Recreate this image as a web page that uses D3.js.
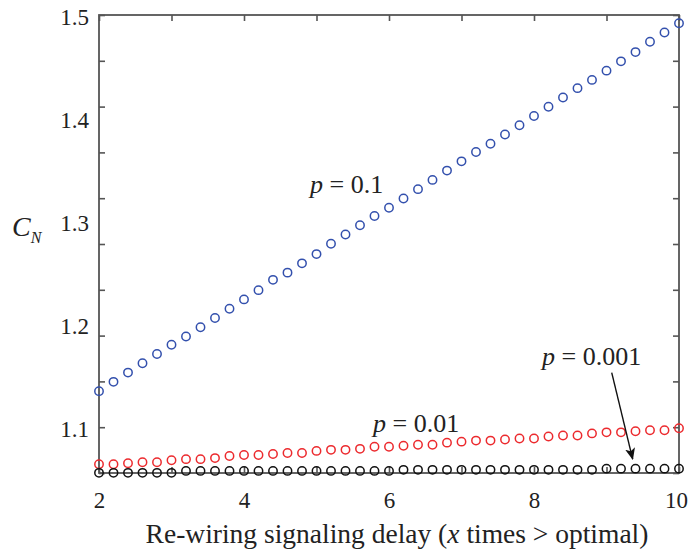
<!DOCTYPE html>
<html>
<head>
<meta charset="utf-8">
<script src="https://cdn.jsdelivr.net/npm/d3@7"></script>
<style>
  body { margin : 0; background : #fff; }
  svg text { font-family : "Liberation Serif", serif; }
</style>
</head>
<body>
<div id="chart"></div>
<script>
// delay multiples on the x axis
const delays = [2, 2.2, 2.4, 2.6, 2.8, 3, 3.2, 3.4, 3.6, 3.8,
                4, 4.2, 4.4, 4.6, 4.8, 5, 5.2, 5.4, 5.6, 5.8,
                6, 6.2, 6.4, 6.6, 6.8, 7, 7.2, 7.4, 7.6, 7.8,
                8, 8.2, 8.4, 8.6, 8.8, 9, 9.2, 9.4, 9.6, 9.8, 10];

// C_N for p = 0.1
const cnP1 = [1.135, 1.144, 1.153, 1.162, 1.171, 1.180, 1.188, 1.197, 1.206, 1.215,
              1.224, 1.233, 1.243, 1.250, 1.259, 1.268, 1.278, 1.287, 1.296, 1.305,
              1.313, 1.322, 1.331, 1.340, 1.349, 1.358, 1.367, 1.375, 1.384, 1.393,
              1.402, 1.411, 1.420, 1.429, 1.437, 1.446, 1.455, 1.464, 1.474, 1.483, 1.492];

// C_N for p = 0.01
const cnP01 = [1.064, 1.064, 1.065, 1.066, 1.066, 1.068, 1.069, 1.069, 1.070, 1.072,
               1.073, 1.073, 1.074, 1.075, 1.075, 1.077, 1.078, 1.078, 1.079, 1.081,
               1.081, 1.082, 1.083, 1.083, 1.085, 1.086, 1.087, 1.087, 1.088, 1.089,
               1.089, 1.091, 1.092, 1.092, 1.094, 1.095, 1.095, 1.096, 1.097, 1.097, 1.099];

// C_N for p = 0.001
const cnP001 = [1.0557, 1.0557, 1.0557, 1.0557, 1.0557, 1.0557, 1.0576, 1.0576, 1.0576, 1.0576,
                1.0576, 1.0576, 1.0576, 1.0576, 1.0576, 1.0576, 1.0576, 1.0576, 1.0576, 1.0576,
                1.0576, 1.0586, 1.0586, 1.0586, 1.0586, 1.0586, 1.0586, 1.0586, 1.0586, 1.0586,
                1.0586, 1.0586, 1.0586, 1.0586, 1.0586, 1.0598, 1.0598, 1.0598, 1.0598, 1.0598, 1.0598];

const xTicks      = [2, 3, 4, 5, 6, 7, 8, 9, 10];
const xTickLabels = [2, 4, 6, 8, 10];
const yTickLabels = [1.1, 1.2, 1.3, 1.4, 1.5];

const series = [
	{ name : 'p = 0.1',   values : cnP1,   color : '#3350ad', label : [4.91, 1.327] },
	{ name : 'p = 0.01',  values : cnP01,  color : '#ec2a2e', label : [5.78, 1.0954] },
	{ name : 'p = 0.001', values : cnP001, color : '#111111', label : [8.11, 1.1605] }
];

const serif = 'Liberation Serif';

const chart = () => {

	var width  = 689;
	var height = 558;
	var margin = { top : 15, right : 10, bottom : 85, left : 99 };
	var w = width - margin.left - margin.right;
	var h = height - margin.top - margin.bottom;

	var svg = d3.select( '#chart' )
	            .append( 'svg' )
	            .attr( 'width', width )
	            .attr( 'height', height )
	            .attr( 'font-family', serif );

	var g = svg.append( 'g' )
	           .attr( 'transform', `translate(${margin.left},${margin.top})` );

	var x = d3.scaleLinear()
	          .domain( [2, 10] )
	          .range( [0, w] );

	// the frame carries ten equal tick steps; the printed labels span the top nine
	var yTick = d3.scaleLinear()
	              .domain( [0, 10] )
	              .range( [h, 0] );

	var y = d3.scaleLinear()
	          .domain( [1.1, 1.5] )
	          .range( [yTick( 1 ), yTick( 10 )] );

	const axisColor = '#555';

	const styleAxis = sel => {
		sel.attr( 'font-family', serif ).attr( 'font-size', 23 );
		sel.select( '.domain' ).remove();
		sel.selectAll( 'line' ).attr( 'stroke', axisColor ).attr( 'stroke-width', 1.6 );
		sel.selectAll( 'text' )
		   .attr( 'font-family', serif )
		   .attr( 'font-size', 23 )
		   .attr( 'fill', '#222' );
	};

	// frame
	g.append( 'rect' )
	 .attr( 'width', w )
	 .attr( 'height', h )
	 .attr( 'fill', 'none' )
	 .attr( 'stroke', axisColor )
	 .attr( 'stroke-width', 1.8 );

	// inward ticks on all four sides
	g.append( 'g' )
	 .attr( 'transform', `translate(0,${h})` )
	 .call( d3.axisBottom( x ).tickValues( xTicks ).tickSize( -6 ).tickFormat( '' ) )
	 .call( styleAxis );

	g.append( 'g' )
	 .call( d3.axisTop( x ).tickValues( xTicks ).tickSize( -6 ).tickFormat( '' ) )
	 .call( styleAxis );

	g.append( 'g' )
	 .call( d3.axisLeft( yTick ).ticks( 10 ).tickSize( -6 ).tickFormat( '' ) )
	 .call( styleAxis );

	g.append( 'g' )
	 .attr( 'transform', `translate(${w},0)` )
	 .call( d3.axisRight( yTick ).ticks( 10 ).tickSize( -6 ).tickFormat( '' ) )
	 .call( styleAxis );

	// tick labels
	g.append( 'g' )
	 .attr( 'transform', `translate(0,${h})` )
	 .call( d3.axisBottom( x ).tickValues( xTickLabels ).tickSize( 0 ).tickPadding( 19 ) )
	 .call( styleAxis )
	 .selectAll( 'text' )
	 .attr( 'dx', d => d === 10 ? -3 : 0 );

	g.append( 'g' )
	 .call( d3.axisLeft( y ).tickValues( yTickLabels ).tickSize( 0 ).tickPadding( 10 ).tickFormat( d3.format( '.1f' ) ) )
	 .call( styleAxis )
	 .selectAll( 'text' )
	 .attr( 'dy', '0.42em' );

	// markers
	series.forEach( s => {
		g.append( 'g' )
		 .selectAll( 'circle' )
		 .data( s.values )
		 .enter()
		 .append( 'circle' )
		 .attr( 'cx', ( d, i ) => x( delays[i] ) )
		 .attr( 'cy', d => y( d ) )
		 .attr( 'r', 4.2 )
		 .attr( 'fill', 'none' )
		 .attr( 'stroke', s.color )
		 .attr( 'stroke-width', 1.5 );
	} );

	// series labels
	series.forEach( s => {
		var t = g.append( 'text' )
		         .attr( 'x', x( s.label[0] ) )
		         .attr( 'y', y( s.label[1] ) )
		         .attr( 'font-family', serif )
		         .attr( 'font-size', 26 )
		         .attr( 'fill', '#222' );
		t.append( 'tspan' ).attr( 'font-style', 'italic' ).text( 'p' );
		t.append( 'tspan' ).text( ' = ' + s.name.split( '= ' )[1] );
	} );

	// arrow from the p = 0.001 label down to its markers
	svg.append( 'defs' )
	   .append( 'marker' )
	   .attr( 'id', 'head' )
	   .attr( 'viewBox', '0 0 12 10' )
	   .attr( 'refX', 11 )
	   .attr( 'refY', 5 )
	   .attr( 'markerWidth', 12 )
	   .attr( 'markerHeight', 10 )
	   .attr( 'markerUnits', 'userSpaceOnUse' )
	   .attr( 'orient', 'auto' )
	   .append( 'path' )
	   .attr( 'd', 'M0,0 L12,5 L0,10 L3,5 Z' )
	   .attr( 'fill', '#111' );

	g.append( 'line' )
	 .attr( 'x1', x( 9.072 ) )
	 .attr( 'y1', y( 1.153 ) )
	 .attr( 'x2', x( 9.361 ) )
	 .attr( 'y2', y( 1.069 ) )
	 .attr( 'stroke', '#111' )
	 .attr( 'stroke-width', 1.4 )
	 .attr( 'marker-end', 'url(#head)' );

	// axis titles
	svg.append( 'text' )
	   .attr( 'x', 397 )
	   .attr( 'y', 543 )
	   .attr( 'text-anchor', 'middle' )
	   .attr( 'font-family', serif )
	   .attr( 'font-size', 27.5 )
	   .attr( 'fill', '#222' )
	   .call( t => {
		   t.append( 'tspan' ).text( 'Re-wiring signaling delay (' );
		   t.append( 'tspan' ).attr( 'font-style', 'italic' ).text( 'x' );
		   t.append( 'tspan' ).text( ' times > optimal)' );
	   } );

	var cn = svg.append( 'text' )
	            .attr( 'x', 12 )
	            .attr( 'y', 236 )
	            .attr( 'font-family', serif )
	            .attr( 'font-style', 'italic' )
	            .attr( 'font-size', 28 )
	            .attr( 'fill', '#222' );
	cn.append( 'tspan' ).text( 'C' );
	cn.append( 'tspan' ).attr( 'font-size', 16 ).attr( 'dy', 7 ).text( 'N' );
};

chart();
</script>
</body>
</html>
